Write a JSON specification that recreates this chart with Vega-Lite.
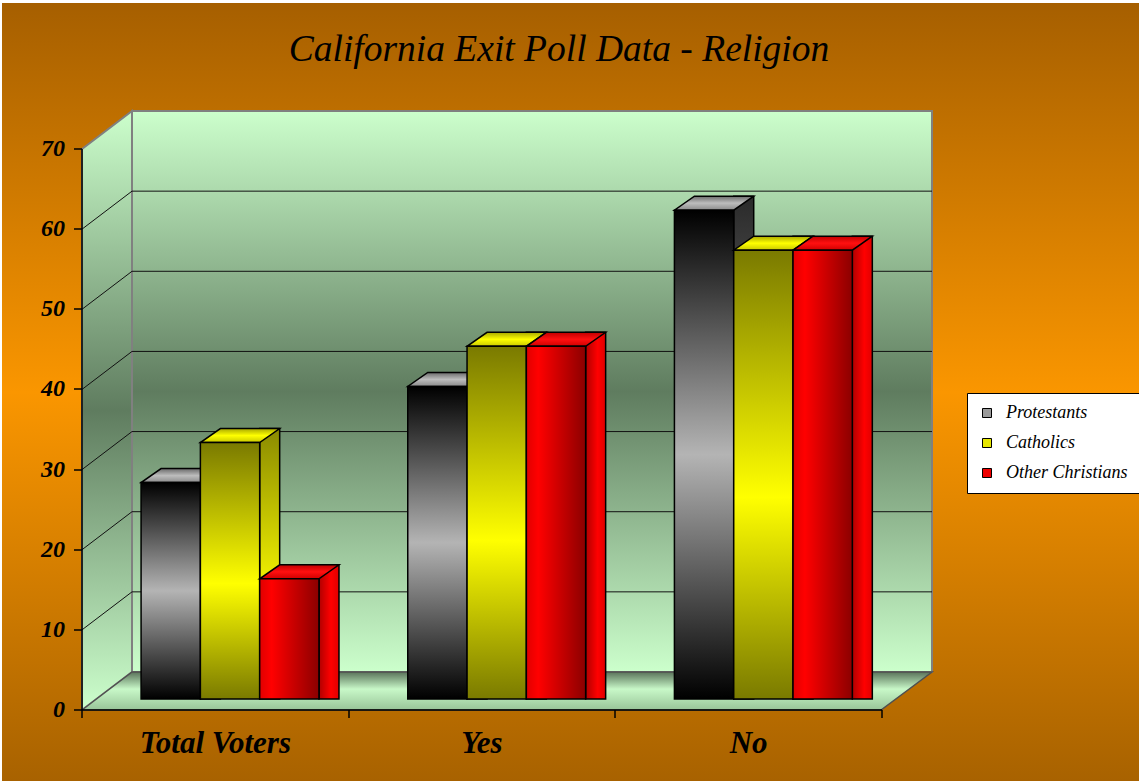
{
  "$schema": "https://vega.github.io/schema/vega-lite/v6.json",
  "width": 800,
  "height": 561,
  "autosize": "none",
  "padding": {"left": 132, "top": 111, "right": 207, "bottom": 109},
  "background": "#ffffff",
  "title": {
    "text": "California Exit Poll Data - Religion",
    "font": "Liberation Serif",
    "fontSize": 37.5,
    "fontStyle": "italic",
    "fontWeight": "normal",
    "color": "#000000",
    "anchor": "middle",
    "frame": "group",
    "dx": 27,
    "offset": -96,
    "baseline": "alphabetic",
    "zindex": 1
  },
  "config": {
    "view": {"stroke": null},
    "scale": {"bandPaddingInner": 0, "bandPaddingOuter": 0, "barBandPaddingInner": 0, "rectBandPaddingInner": 0},
    "axisX": {
      "domainColor": "#000000", "domainWidth": 1.5,
      "tickColor": "#000000", "tickSize": 8, "tickWidth": 1.5,
      "labelFont": "Liberation Serif", "labelFontSize": 31, "labelFontStyle": "italic", "labelFontWeight": "bold",
      "labelColor": "#000000", "labelAngle": 0, "labelPadding": 11, "grid": false
    },
    "axisY": {
      "domainColor": "#000000", "domainWidth": 1.5,
      "tickColor": "#000000", "tickSize": 8, "tickWidth": 1.5,
      "labelFont": "Liberation Serif", "labelFontSize": 24, "labelFontStyle": "italic", "labelFontWeight": "bold",
      "labelColor": "#000000", "labelPadding": 9, "grid": false
    }
  },
  "datasets": {
    "poll": [
      {"cat": "Total Voters", "series": "Protestants", "val": 27},
      {"cat": "Total Voters", "series": "Catholics", "val": 32},
      {"cat": "Total Voters", "series": "Other Christians", "val": 15},
      {"cat": "Yes", "series": "Protestants", "val": 39},
      {"cat": "Yes", "series": "Catholics", "val": 44},
      {"cat": "Yes", "series": "Other Christians", "val": 44},
      {"cat": "No", "series": "Protestants", "val": 61},
      {"cat": "No", "series": "Catholics", "val": 56},
      {"cat": "No", "series": "Other Christians", "val": 56}
    ],
    "grid": [{"g": 10}, {"g": 20}, {"g": 30}, {"g": 40}, {"g": 50}, {"g": 60}]
  },
  "layer": [
    {
      "data": {"values": [{}]},
      "mark": {"type": "point", "shape": "M -0.99737 -0.68246 L 0.99737 -0.68246 L 0.99737 0.68246 L -0.99737 0.68246 Z", "size": 1299600, "filled": true, "opacity": 1, "strokeWidth": 0, "xOffset": 38.5, "yOffset": 0.5,
        "fill": {"gradient": "linear", "x1": 0, "y1": 0, "x2": 0, "y2": 1, "stops": [{"offset": 0, "color": "#a65f00"}, {"offset": 0.5, "color": "#fa9600"}, {"offset": 1, "color": "#a86200"}]}},
      "encoding": {
        "x": {"datum": "Yes", "type": "nominal", "scale": {"domain": ["Total Voters", "Yes", "No"]}, "title": null},
        "y": {"datum": 35, "type": "quantitative", "scale": {"domain": [0, 70], "nice": false}, "title": null}
      }
    },
    {
      "data": {"values": [{}]},
      "mark": {"type": "rect", "stroke": "#808080", "strokeWidth": 2,
        "fill": {"gradient": "linear", "x1": 0, "y1": 0, "x2": 0, "y2": 1, "stops": [{"offset": 0, "color": "#ccffcc"}, {"offset": 0.5, "color": "#5f7c5f"}, {"offset": 1, "color": "#ccffcc"}]}},
      "encoding": {
        "y": {"datum": 0, "type": "quantitative", "scale": {"domain": [0, 70], "nice": false}, "title": null},
        "y2": {"datum": 70}
      }
    },
    {
      "data": {"values": [{}]},
      "mark": {"type": "point", "shape": "M -0.08333 -0.87167 L 0.08333 -0.99833 L 0.08333 0.87167 L -0.08333 0.99833 Z", "size": 360000, "filled": true, "opacity": 1, "stroke": "#808080", "strokeWidth": 2, "xOffset": -158.33, "yOffset": 19,
        "fill": {"gradient": "linear", "x1": 0, "y1": 0, "x2": 0, "y2": 1, "stops": [{"offset": 0, "color": "#ccffcc"}, {"offset": 0.5, "color": "#5f7c5f"}, {"offset": 1, "color": "#ccffcc"}]}},
      "encoding": {
        "x": {"datum": "Total Voters", "type": "nominal", "scale": {"domain": ["Total Voters", "Yes", "No"]}, "title": null},
        "y": {"datum": 35, "type": "quantitative", "scale": {"domain": [0, 70], "nice": false}, "title": null}
      }
    },
    {
      "data": {"values": [{}]},
      "mark": {"type": "point", "shape": "M -1 0.04471 L -0.88235 -0.04471 L 1 -0.04471 L 0.88 0.04471 Z", "size": 722500, "filled": true, "opacity": 1, "stroke": "#505050", "strokeWidth": 1.5, "xOffset": -25, "yOffset": 19,
        "fill": {"gradient": "linear", "x1": 0, "y1": 0, "x2": 0, "y2": 1, "stops": [{"offset": 0, "color": "#5a735a"}, {"offset": 0.45, "color": "#c8f8c8"}, {"offset": 1, "color": "#98c498"}]}},
      "encoding": {
        "x": {"datum": "Yes", "type": "nominal", "scale": {"domain": ["Total Voters", "Yes", "No"]}, "title": null},
        "y": {"datum": 0, "type": "quantitative", "scale": {"domain": [0, 70], "nice": false}, "title": null}
      }
    },
    {
      "data": {"name": "grid"},
      "mark": {"type": "rule", "color": "#111111", "strokeWidth": 1},
      "encoding": {
        "y": {"field": "g", "type": "quantitative", "scale": {"domain": [0, 70], "nice": false}, "title": null}
      }
    },
    {
      "data": {"name": "grid"},
      "mark": {"type": "point", "shape": "M -1 0.76 L 1 -0.76", "size": 2500, "filled": false, "opacity": 1, "stroke": "#111111", "strokeWidth": 1, "xOffset": -158.33, "yOffset": 19},
      "encoding": {
        "x": {"datum": "Total Voters", "type": "nominal", "scale": {"domain": ["Total Voters", "Yes", "No"]}, "title": null},
        "y": {"field": "g", "type": "quantitative", "scale": {"domain": [0, 70], "nice": false}, "title": null}
      }
    },
    {
      "data": {"name": "poll"},
      "transform": [{"filter": {"field": "series", "equal": "Protestants"}}],
      "mark": {"type": "bar", "width": 20, "xOffset": -54.95, "yOffset": 13, "y2Offset": 27, "stroke": "#000000", "strokeWidth": 1.5,
        "fill": {"gradient": "linear", "x1": 0, "y1": 0, "x2": 0, "y2": 1, "stops": [{"offset": 0, "color": "#2a2a2a"}, {"offset": 0.5, "color": "#7a7a7a"}, {"offset": 1, "color": "#2a2a2a"}]}},
      "encoding": {
        "x": {"field": "cat", "type": "nominal", "scale": {"domain": ["Total Voters", "Yes", "No"]}, "title": null,
          "axis": {"tickBand": "extent", "offset": 88, "translate": -50, "zindex": 2}},
        "y": {"field": "val", "type": "quantitative", "scale": {"domain": [0, 70], "nice": false}, "title": null,
          "axis": {"values": [0, 10, 20, 30, 40, 50, 60, 70], "offset": 88, "translate": 38, "zindex": 2}},
        "y2": {"datum": 0}
      }
    },
    {
      "data": {"name": "poll"},
      "transform": [{"filter": {"field": "series", "equal": "Protestants"}}],
      "mark": {"type": "point", "shape": "M -0.99125 0.175 L 0.49125 0.175 L 0.99125 -0.175 L -0.49125 -0.175 Z", "size": 6400, "filled": true, "opacity": 1, "xOffset": -84.6, "yOffset": 20, "stroke": "#000000", "strokeWidth": 1.5,
        "fill": {"gradient": "linear", "x1": 0, "y1": 0, "x2": 0, "y2": 1, "stops": [{"offset": 0, "color": "#6a6a6a"}, {"offset": 0.5, "color": "#bdbdbd"}, {"offset": 1, "color": "#8a8a8a"}]}},
      "encoding": {
        "x": {"field": "cat", "type": "nominal", "scale": {"domain": ["Total Voters", "Yes", "No"]}, "title": null},
        "y": {"field": "val", "type": "quantitative", "scale": {"domain": [0, 70], "nice": false}, "title": null}
      }
    },
    {
      "data": {"name": "poll"},
      "transform": [{"filter": {"field": "series", "equal": "Protestants"}}],
      "mark": {"type": "bar", "width": 59.3, "xOffset": -94.6, "yOffset": 27, "y2Offset": 27, "stroke": "#000000", "strokeWidth": 1.5,
        "fill": {"gradient": "linear", "x1": 0, "y1": 0, "x2": 0, "y2": 1, "stops": [{"offset": 0, "color": "#000000"}, {"offset": 0.5, "color": "#b4b4b4"}, {"offset": 1, "color": "#000000"}]}},
      "encoding": {
        "x": {"field": "cat", "type": "nominal", "scale": {"domain": ["Total Voters", "Yes", "No"]}, "title": null},
        "y": {"field": "val", "type": "quantitative", "scale": {"domain": [0, 70], "nice": false}, "title": null},
        "y2": {"datum": 0}
      }
    },
    {
      "data": {"name": "poll"},
      "transform": [{"filter": {"field": "series", "equal": "Catholics"}}],
      "mark": {"type": "bar", "width": 20, "xOffset": 4.35, "yOffset": 13, "y2Offset": 27, "stroke": "#000000", "strokeWidth": 1.5,
        "fill": {"gradient": "linear", "x1": 0, "y1": 0, "x2": 0, "y2": 1, "stops": [{"offset": 0, "color": "#8a8a00"}, {"offset": 0.6, "color": "#f5f500"}, {"offset": 1, "color": "#8a8a00"}]}},
      "encoding": {
        "x": {"field": "cat", "type": "nominal", "scale": {"domain": ["Total Voters", "Yes", "No"]}, "title": null},
        "y": {"field": "val", "type": "quantitative", "scale": {"domain": [0, 70], "nice": false}, "title": null},
        "y2": {"datum": 0}
      }
    },
    {
      "data": {"name": "poll"},
      "transform": [{"filter": {"field": "series", "equal": "Catholics"}}],
      "mark": {"type": "point", "shape": "M -0.99125 0.175 L 0.49125 0.175 L 0.99125 -0.175 L -0.49125 -0.175 Z", "size": 6400, "filled": true, "opacity": 1, "xOffset": -25.3, "yOffset": 20, "stroke": "#000000", "strokeWidth": 1.5,
        "fill": {"gradient": "linear", "x1": 0, "y1": 0, "x2": 0, "y2": 1, "stops": [{"offset": 0, "color": "#a8a800"}, {"offset": 0.5, "color": "#ffff00"}, {"offset": 1, "color": "#c8c800"}]}},
      "encoding": {
        "x": {"field": "cat", "type": "nominal", "scale": {"domain": ["Total Voters", "Yes", "No"]}, "title": null},
        "y": {"field": "val", "type": "quantitative", "scale": {"domain": [0, 70], "nice": false}, "title": null}
      }
    },
    {
      "data": {"name": "poll"},
      "transform": [{"filter": {"field": "series", "equal": "Catholics"}}],
      "mark": {"type": "bar", "width": 59.3, "xOffset": -35.3, "yOffset": 27, "y2Offset": 27, "stroke": "#000000", "strokeWidth": 1.5,
        "fill": {"gradient": "linear", "x1": 0, "y1": 0, "x2": 0, "y2": 1, "stops": [{"offset": 0, "color": "#7a7a00"}, {"offset": 0.55, "color": "#ffff00"}, {"offset": 1, "color": "#7a7a00"}]}},
      "encoding": {
        "x": {"field": "cat", "type": "nominal", "scale": {"domain": ["Total Voters", "Yes", "No"]}, "title": null},
        "y": {"field": "val", "type": "quantitative", "scale": {"domain": [0, 70], "nice": false}, "title": null},
        "y2": {"datum": 0}
      }
    },
    {
      "data": {"name": "poll"},
      "transform": [{"filter": {"field": "series", "equal": "Other Christians"}}],
      "mark": {"type": "bar", "width": 20, "xOffset": 63.65, "yOffset": 13, "y2Offset": 27, "stroke": "#000000", "strokeWidth": 1.5,
        "fill": {"gradient": "linear", "x1": 0, "y1": 0, "x2": 1, "y2": 0, "stops": [{"offset": 0, "color": "#b00000"}, {"offset": 0.6, "color": "#ff0000"}, {"offset": 1, "color": "#e00000"}]}},
      "encoding": {
        "x": {"field": "cat", "type": "nominal", "scale": {"domain": ["Total Voters", "Yes", "No"]}, "title": null},
        "y": {"field": "val", "type": "quantitative", "scale": {"domain": [0, 70], "nice": false}, "title": null},
        "y2": {"datum": 0}
      }
    },
    {
      "data": {"name": "poll"},
      "transform": [{"filter": {"field": "series", "equal": "Other Christians"}}],
      "mark": {"type": "point", "shape": "M -0.99125 0.175 L 0.49125 0.175 L 0.99125 -0.175 L -0.49125 -0.175 Z", "size": 6400, "filled": true, "opacity": 1, "xOffset": 34.0, "yOffset": 20, "stroke": "#000000", "strokeWidth": 1.5,
        "fill": {"gradient": "linear", "x1": 0, "y1": 0, "x2": 0, "y2": 1, "stops": [{"offset": 0, "color": "#c00000"}, {"offset": 0.5, "color": "#ff1010"}, {"offset": 1, "color": "#d00000"}]}},
      "encoding": {
        "x": {"field": "cat", "type": "nominal", "scale": {"domain": ["Total Voters", "Yes", "No"]}, "title": null},
        "y": {"field": "val", "type": "quantitative", "scale": {"domain": [0, 70], "nice": false}, "title": null}
      }
    },
    {
      "data": {"name": "poll"},
      "transform": [{"filter": {"field": "series", "equal": "Other Christians"}}],
      "mark": {"type": "bar", "width": 59.3, "xOffset": 24.0, "yOffset": 27, "y2Offset": 27, "stroke": "#000000", "strokeWidth": 1.5,
        "fill": {"gradient": "linear", "x1": 0, "y1": 0, "x2": 1, "y2": 0, "stops": [{"offset": 0, "color": "#e00000"}, {"offset": 0.2, "color": "#ff0000"}, {"offset": 1, "color": "#8b0000"}]}},
      "encoding": {
        "x": {"field": "cat", "type": "nominal", "scale": {"domain": ["Total Voters", "Yes", "No"]}, "title": null},
        "y": {"field": "val", "type": "quantitative", "scale": {"domain": [0, 70], "nice": false}, "title": null},
        "y2": {"datum": 0}
      }
    },
    {
      "data": {"name": "poll"},
      "mark": {"type": "point", "filled": true, "opacity": 0},
      "encoding": {
        "x": {"field": "cat", "type": "nominal", "scale": {"domain": ["Total Voters", "Yes", "No"]}, "title": null},
        "y": {"field": "val", "type": "quantitative", "scale": {"domain": [0, 70], "nice": false}, "title": null},
        "fill": {
          "field": "series", "type": "nominal",
          "scale": {"domain": ["Protestants", "Catholics", "Other Christians"], "range": ["#9a9a9a", "#e6e600", "#ee0000"]},
          "legend": {
            "orient": "none", "legendX": 835, "legendY": 282, "title": null,
            "symbolType": "square", "symbolSize": 81, "symbolOpacity": 1, "symbolStrokeColor": "#000000", "symbolStrokeWidth": 1,
            "labelFont": "Liberation Serif", "labelFontStyle": "italic", "labelFontSize": 18, "labelColor": "#000000",
            "labelOffset": 10, "rowPadding": 12, "padding": 11, "fillColor": "#ffffff", "strokeColor": "#000000"
          }
        }
      }
    }
  ]
}
